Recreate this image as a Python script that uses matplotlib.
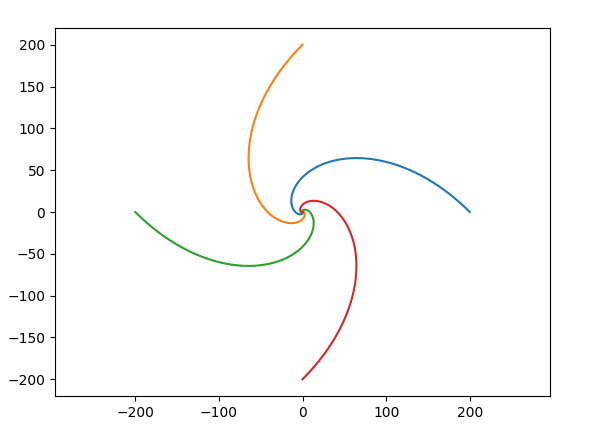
import numpy as np
import matplotlib
matplotlib.use('Agg')
import matplotlib.pyplot as plt

# four logarithmic spirals r = r0 * exp(-k * theta), each turned by a quarter turn
start_radius = [200, 200, 200, 200]
start_angle_deg = [0, 90, 180, 270]
decay_rate = [1.0, 1.0, 1.0, 1.0]
colors = ['#1f77b4', '#ff7f0e', '#2ca02c', '#d62728']

theta = np.linspace(0, 4 * np.pi, 1000)

fig = plt.figure(figsize=(5.95, 4.3), dpi=100)
ax = fig.add_axes([55 / 595, 34 / 430, 495 / 595, 368 / 430])

for r0, a0, k, c in zip(start_radius, start_angle_deg, decay_rate, colors):
    r = r0 * np.exp(-k * theta)
    phi = theta + np.deg2rad(a0)
    ax.plot(r * np.cos(phi), r * np.sin(phi), color=c)

ax.set_aspect('equal', adjustable='datalim')
ax.set_yticks([-200, -150, -100, -50, 0, 50, 100, 150, 200])
ax.set_xticks([-200, -100, 0, 100, 200])

fig.savefig('out.png', dpi=100)
